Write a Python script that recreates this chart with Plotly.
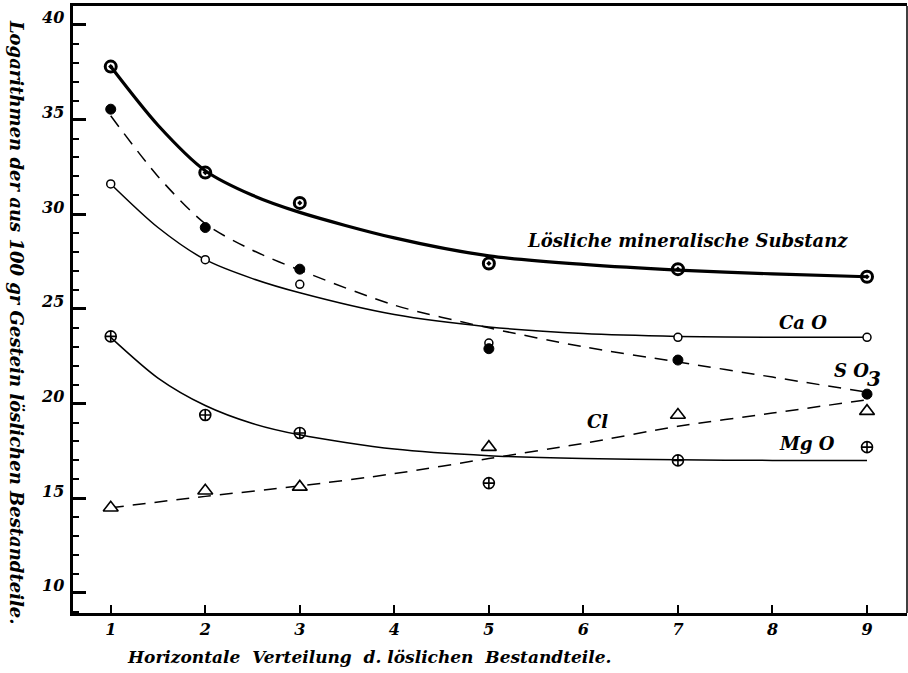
import plotly.graph_objects as go

# measured points
x_pts = [1, 2, 3, 5, 7, 9]
loesliche = [37.8, 32.2, 30.6, 27.4, 27.1, 26.7]
cao = [31.6, 27.6, 26.3, 23.2, 23.5, 23.5]
so3 = [35.55, 29.3, 27.1, 22.9, 22.3, 20.5]
mgo = [23.55, 19.4, 18.45, 15.8, 17.0, 17.7]
cl = [14.5, 15.4, 15.6, 17.7, 19.4, 19.6]

# fitted (drawn) curves
x_curve = [1, 1.5, 2, 2.5, 3, 4, 5, 6, 7, 8, 9]
loesliche_curve = [37.8, 34.7, 32.3, 31.0, 30.1, 28.75, 27.8, 27.35, 27.05, 26.85, 26.7]
cao_curve = [31.6, 29.3, 27.6, 26.6, 25.85, 24.7, 24.05, 23.7, 23.55, 23.5, 23.5]
so3_curve = [35.2, 32.0, 29.5, 28.1, 27.05, 25.2, 24.0, 23.0, 22.2, 21.4, 20.6]
mgo_curve = [23.5, 21.35, 19.9, 18.95, 18.35, 17.6, 17.25, 17.1, 17.03, 17.0, 17.0]
cl_curve_x = [1, 2, 3, 4, 5, 6, 7, 8, 9]
cl_curve = [14.5, 15.1, 15.65, 16.3, 17.1, 17.9, 18.8, 19.5, 20.2]

x_ticks = [1, 2, 3, 4, 5, 6, 7, 8, 9]
y_ticks = [10, 15, 20, 25, 30, 35, 40]

FONT = "DejaVu Serif"
BLK = "black"

fig = go.Figure()

def curve(x, y, width, dash="solid"):
    fig.add_trace(go.Scatter(x=x, y=y, mode="lines",
                             line=dict(color=BLK, width=width, dash=dash, shape="spline", smoothing=0.8),
                             hoverinfo="skip", showlegend=False))

curve(x_curve, loesliche_curve, 3.2)
curve(x_curve, cao_curve, 1.5)
curve(x_curve, so3_curve, 1.5, "13px,9px")
curve(x_curve, mgo_curve, 1.5)
curve(cl_curve_x, cl_curve, 1.5, "13px,9px")

def pts(y, symbol, size, lw, fill="white"):
    fig.add_trace(go.Scatter(x=x_pts, y=y, mode="markers",
                             marker=dict(symbol=symbol, size=size, color=fill, line=dict(color=BLK, width=lw)),
                             showlegend=False))

pts(cao, "circle", 8, 1.5)
pts(so3, "circle", 10, 1, BLK)
pts(loesliche, "circle-open-dot", 11, 3, BLK)
pts(mgo, "circle-cross-open", 11, 1.6, BLK)
pts(cl, "triangle-up", 13, 1.6)

lab = dict(family=FONT, size=18, color=BLK)
def note(text, x, y, font=lab):
    fig.add_annotation(text="<b><i>" + text + "</i></b>", x=x, y=y, xanchor="left", yanchor="middle",
                       showarrow=False, font=font)

note("Lösliche mineralische Substanz", 5.38, 28.59)
note("Ca O", 8.05, 24.3)
note("S O", 8.63, 21.75)
note("3", 8.98, 21.3, font=dict(family=FONT, size=20, color=BLK))
note("Cl", 6.02, 19.03)
note("Mg O", 8.05, 17.87)

# y tick labels (sit slightly above their ticks, as in the original)
for v in y_ticks:
    fig.add_annotation(text="<b><i>%d</i></b>" % v, xref="paper", x=0, y=v, xanchor="right", yanchor="middle",
                       xshift=-7, yshift=7, showarrow=False, font=dict(family=FONT, size=16, color=BLK))

fig.add_annotation(text="<b><i>Horizontale  Verteilung  d. löslichen  Bestandteile.</i></b>",
                   xref="paper", yref="paper", x=0.355, y=-0.073, xanchor="center", yanchor="middle",
                   showarrow=False, font=dict(family=FONT, size=17, color=BLK))
fig.add_annotation(text="<b><i>Logarithmen der aus 100 gr Gestein löslichen Bestandteile.</i></b>",
                   xref="paper", yref="paper", x=-0.068, y=0.479, xanchor="center", yanchor="middle",
                   textangle=90, showarrow=False, font=dict(family=FONT, size=18, color=BLK))

fig.update_xaxes(range=[0.601, 9.423], tickvals=x_ticks, ticktext=["<b><i>%d</i></b>" % v for v in x_ticks],
                 ticks="inside", ticklen=8, tickwidth=2, tickcolor=BLK, showgrid=False, zeroline=False,
                 showline=True, linecolor=BLK, linewidth=2.5, mirror=True,
                 tickfont=dict(family=FONT, size=16, color=BLK))
fig.update_yaxes(range=[8.94, 41.0], tickvals=y_ticks, showticklabels=False,
                 ticks="inside", ticklen=13, tickwidth=2.5, tickcolor=BLK, showgrid=False, zeroline=False,
                 showline=True, linecolor=BLK, linewidth=2.5, mirror=False,
                 minor=dict(dtick=1, tick0=0, ticks="inside", ticklen=6, tickwidth=2, tickcolor=BLK, showgrid=False))

fig.add_shape(type="line", xref="paper", yref="paper", x0=1, x1=1, y0=0, y1=1, line=dict(color=BLK, width=1.5))

fig.update_layout(width=908, height=673, margin=dict(l=73, r=1, t=6, b=60),
                  paper_bgcolor="white", plot_bgcolor="white", showlegend=False)

fig.write_html("out.html", config={"displayModeBar": False},
               post_script="document.body.style.margin='0';document.body.style.padding='0';"
                           "document.documentElement.style.overflow='hidden';")
